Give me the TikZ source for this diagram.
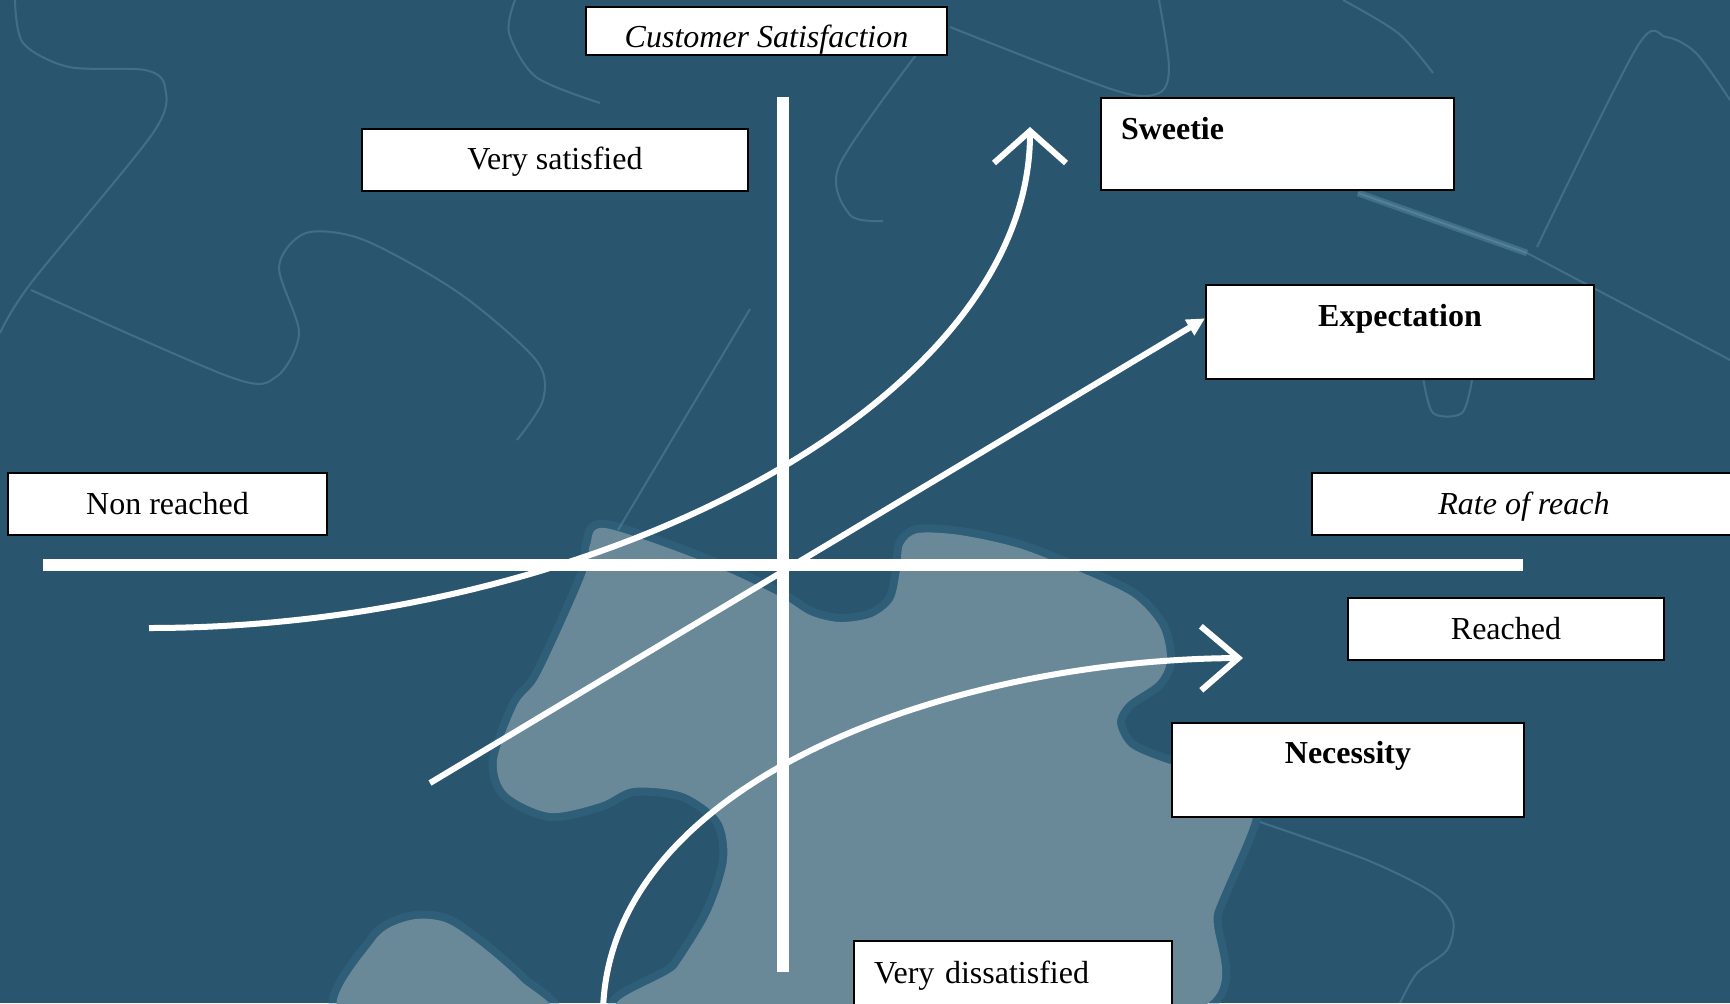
\documentclass[tikz,border=0pt]{standalone}
\usepackage{fontspec}
\setmainfont{Liberation Serif}
\usetikzlibrary{arrows.meta}
\definecolor{puzzledark}{RGB}{42,85,110}
\definecolor{puzzlelight}{RGB}{105,137,153}
\definecolor{puzzleglow}{RGB}{58,112,140}
\definecolor{puzzleseam}{RGB}{112,160,186}
\tikzset{
  label box/.style={draw=black, fill=white, line width=1.5pt, inner sep=0pt, anchor=north west, font=\fontsize{24}{28}\selectfont},
  white axis/.style={draw=white, line width=9pt},
  white curve/.style={draw=white, line width=4.5pt},
  seam/.style={draw=puzzleseam, line width=1.5pt, opacity=0.35},
  light piece/.style={preaction={draw=puzzleglow, line width=12pt, opacity=0.35}, fill=puzzlelight}
}

\begin{document}
\begin{tikzpicture}[x=0.75pt,y=0.75pt,yscale=-1,xscale=1]
		\useasboundingbox (0,0) rectangle (1730,1003);
		\clip (0,0) rectangle (1730,1003);
		\fill [puzzledark] (0,0) rectangle (1730,1003);
		% background puzzle
		\path [light piece] plot [smooth cycle, tension=0.5] coordinates {(605,528) (700,560) (777,595) (810,615) (840,622) (872,617) (893,600) (900,570) (903,545) (918,533) (960,535) (1019,548) (1083,573) (1133,597) (1160,627) (1167,660) (1157,682) (1127,703) (1117,723) (1130,747) (1167,763) (1207,773) (1240,790) (1253,817) (1215,910) (1177,1015) (640,1015) (677,967) (710,913) (727,860) (720,820) (683,793) (633,788) (600,803) (550,813) (507,793) (497,760) (517,705) (537,680) (562,628) (586,572) (590,545)};
		\path [light piece] plot [smooth cycle, tension=0.5] coordinates {(343,1015) (375,940) (410,920) (445,922) (480,945) (520,980) (545,1015)};
		\draw [seam] plot [smooth] coordinates {(15,0) (23,43) (69,67) (145,70) (165,87) (153,133) (31,283) (0,333)};
		\draw [seam] plot [smooth] coordinates {(31,290) (230,377) (276,377) (299,333) (279,267) (306,233) (364,240) (459,293) (536,360) (543,400) (517,440)};
		\draw [seam] plot [smooth] coordinates {(515,0) (509,33) (536,77) (600,103)};
		\draw [seam] plot [smooth] coordinates {(950,27) (1114,90) (1159,93) (1169,67) (1159,0)};
		\draw [seam] plot [smooth] coordinates {(1343,0) (1398,33) (1433,73)};
		\draw [seam] plot [smooth] coordinates {(916,55) (839,166) (850,215) (883,221)};
		\draw [seam] (750,309) -- (618,530);
		\draw [seam] (1358,193) -- (1527,253) -- (1730,360);
		\draw [seam, line width=5pt] (1358,193) -- (1527,253);
		\draw [seam] plot [smooth] coordinates {(1537,247) (1637,47) (1666,37) (1696,53) (1730,100)};
		\draw [seam] plot [smooth] coordinates {(1423,377) (1433,413) (1462,413) (1472,380)};
		\draw [seam] plot [smooth] coordinates {(1260,822) (1367,860) (1433,893) (1453,920) (1447,950) (1417,973) (1400,1003)};
		% axes
		\coordinate (xaxisL) at (43,565);
		\coordinate (xaxisR) at (1523,565);
		\coordinate (yaxisT) at (783,97);
		\coordinate (yaxisB) at (783,972);
		\draw [white axis] (xaxisL) -- (xaxisR);
		\draw [white axis] (yaxisB) -- (yaxisT);
		% labels
		\node [label box, minimum width=270.75pt, text height=30.5pt, text depth=5.5pt] (satis) at (585,6) {\itshape Customer Satisfaction};
		\node [label box, minimum width=289.5pt, text height=30pt, text depth=16.5pt] (vsat) at (361,128) {Very satisfied};
		\node [label box, text width=234.75pt, inner xsep=15pt, align=left, text height=30.75pt, text depth=38.25pt] (swe) at (1100,97) {\textbf{Sweetie}};
		\node [label box, minimum width=291pt, text height=30.75pt, text depth=39.75pt] (exp) at (1205,284) {\textbf{Expectation}};
		\node [label box, minimum width=239.25pt, text height=30.75pt, text depth=15.75pt] (nonr) at (7,472) {Non reached};
		\node [label box, minimum width=318pt, text height=30.75pt, text depth=15.75pt] (rate) at (1311,472) {\itshape Rate of reach};
		\node [label box, minimum width=237pt, text height=30.75pt, text depth=15.75pt] (rch) at (1347,597) {Reached};
		\node [label box, minimum width=264pt, text height=30pt, text depth=40.5pt] (nec) at (1171,722) {\textbf{Necessity}};
		\node [label box, text width=208.5pt, inner xsep=15pt, align=left, text height=31.5pt, text depth=37.5pt] (vdis) at (853,940) {Very dissatisfied};
		% curves
		\coordinate (sweFrom) at (149,628);
		\coordinate (sweTo) at (1030,127);
		\coordinate (expFrom) at (430,783);
		\coordinate (necFrom) at (603,1010);
		\coordinate (necTo) at (1243,658);
		\draw [white curve, -{Straight Barb[length=24pt,width=54pt]}] (sweFrom) .. controls (600,628) and (1030,400) .. (sweTo);
		\draw [white curve, -{Triangle[length=13.5pt,width=13pt]}] (expFrom) -- (exp.176);
		\draw [white curve, -{Straight Barb[length=28pt,width=48pt]}] (necFrom) .. controls (610,780) and (950,660) .. (necTo);
\end{tikzpicture}
\end{document}
